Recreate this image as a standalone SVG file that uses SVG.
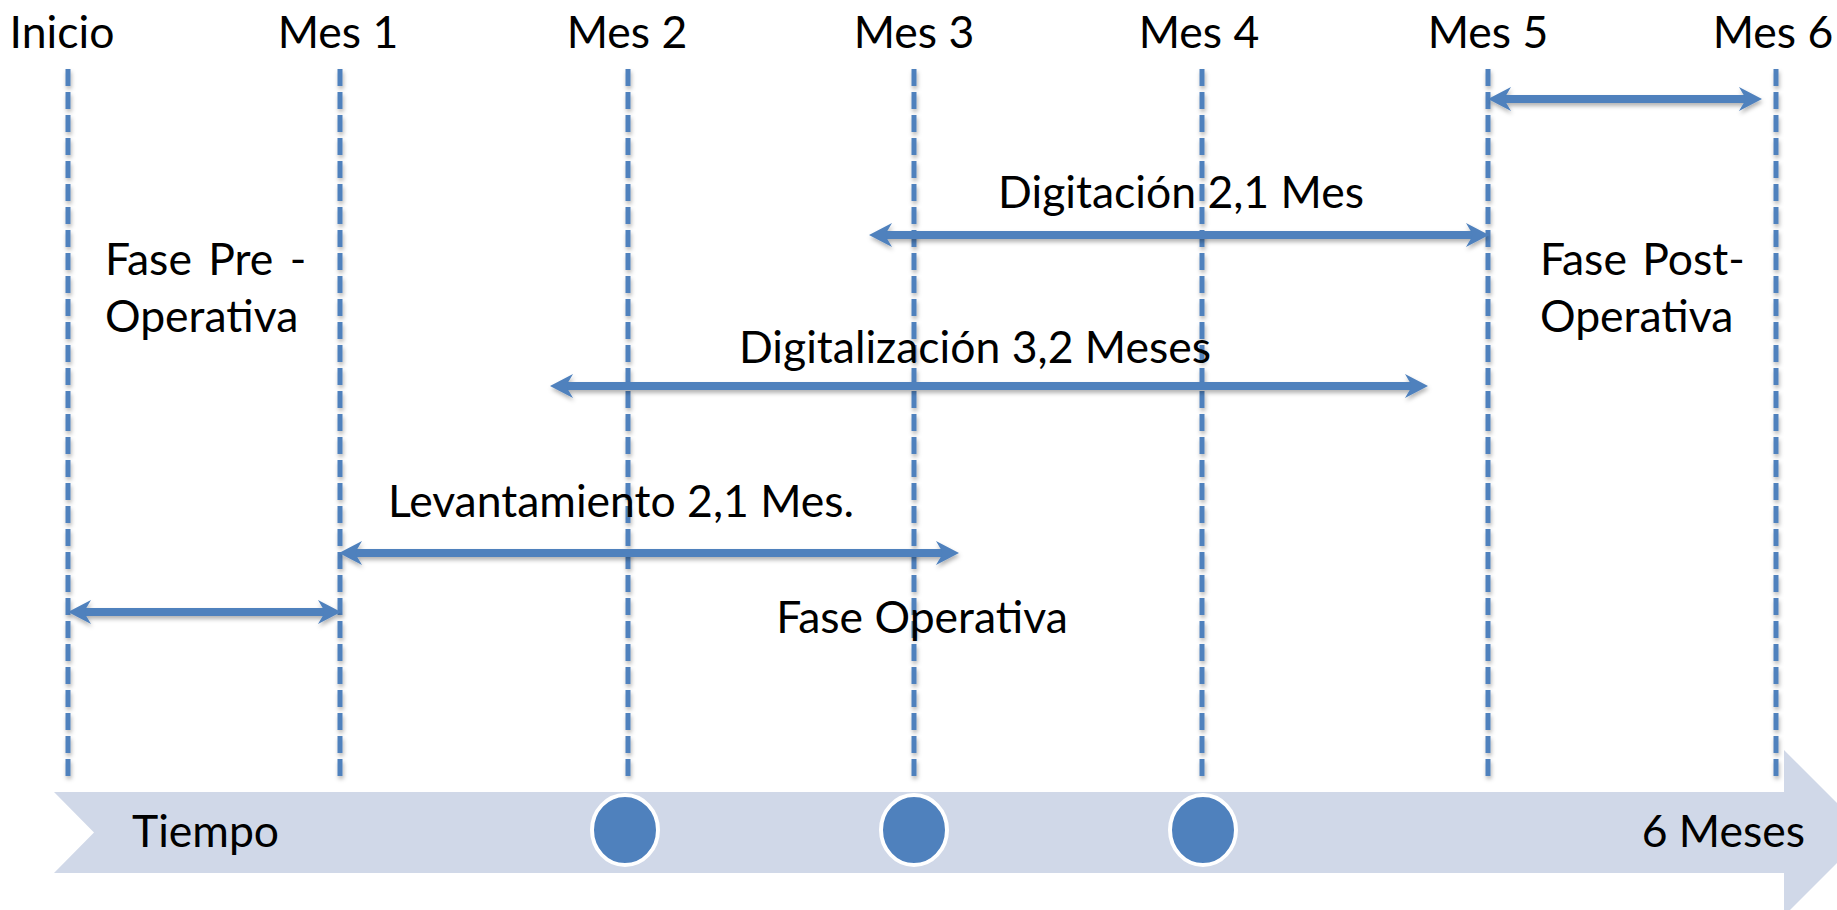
<svg xmlns="http://www.w3.org/2000/svg" width="1837" height="910" viewBox="0 0 1837 910">
<defs>
<style>
.lbl{font-family:Lato,"Open Sans","Liberation Sans",sans-serif;font-size:44.5px;fill:#000}
.vl{stroke:#4F81BD;stroke-width:5;stroke-dasharray:17 6;fill:none}
.arr{stroke:#4F81BD;stroke-width:8;fill:none;marker-start:url(#ah);marker-end:url(#ah)}
.dot{fill:#4F81BD;stroke:#fff;stroke-width:4}
</style>
<marker id="ah" viewBox="-2 -14 28 28" refX="8" refY="0" markerWidth="28" markerHeight="28" markerUnits="userSpaceOnUse" orient="auto-start-reverse" overflow="visible">
<path d="M0,-12 L23,0 L0,12 L7,0 Z" fill="#4F81BD"/>
</marker>
<filter id="sh" x="-5%" y="-5%" width="110%" height="120%">
<feDropShadow dx="1" dy="3" stdDeviation="2" flood-color="#000" flood-opacity="0.3"/>
</filter>
</defs>
<rect width="1837" height="910" fill="#fff"/>
<g id="band">
<polygon points="54,792 1784,792 1784,750 1867,833 1784,916 1784,873 54,873 94,832.5" fill="#D0D8E8"/>
</g>
<g id="gridlines" filter="url(#sh)">
<line class="vl" x1="68" y1="69" x2="68" y2="779"/>
<line class="vl" x1="340" y1="69" x2="340" y2="779"/>
<line class="vl" x1="628" y1="69" x2="628" y2="779"/>
<line class="vl" x1="914" y1="69" x2="914" y2="779"/>
<line class="vl" x1="1202" y1="69" x2="1202" y2="779"/>
<line class="vl" x1="1488" y1="69" x2="1488" y2="779"/>
<line class="vl" x1="1776" y1="69" x2="1776" y2="779"/>
</g>
<g id="month-labels">
<text class="lbl" x="62" y="48" text-anchor="middle">Inicio</text>
<text class="lbl" x="338" y="48" text-anchor="middle">Mes 1</text>
<text class="lbl" x="627" y="48" text-anchor="middle">Mes 2</text>
<text class="lbl" x="914" y="48" text-anchor="middle">Mes 3</text>
<text class="lbl" x="1199" y="48" text-anchor="middle">Mes 4</text>
<text class="lbl" x="1488" y="48" text-anchor="middle">Mes 5</text>
<text class="lbl" x="1773" y="48" text-anchor="middle">Mes 6</text>
</g>
<g id="connectors" filter="url(#sh)">
<line class="arr" x1="1503" y1="99" x2="1747" y2="99"/>
<line class="arr" x1="884" y1="235" x2="1474" y2="235"/>
<line class="arr" x1="565" y1="386" x2="1413" y2="386"/>
<line class="arr" x1="354" y1="553" x2="944" y2="553"/>
<line class="arr" x1="83" y1="612" x2="326" y2="612"/>
</g>
<g id="pre-operativa">
<text class="lbl" x="105" y="275" word-spacing="5">Fase Pre -</text>
<text class="lbl" x="105" y="332">Operativa</text>
</g>
<g id="post-operativa">
<text class="lbl" x="1540" y="275" word-spacing="4">Fase Post-</text>
<text class="lbl" x="1540" y="332">Operativa</text>
</g>
<g id="digitacion">
<text class="lbl" x="1181" y="208" text-anchor="middle">Digitación 2,1 Mes</text>
</g>
<g id="digitalizacion">
<text class="lbl" x="975" y="363" text-anchor="middle">Digitalización 3,2 Meses</text>
</g>
<g id="levantamiento">
<text class="lbl" x="621" y="517" text-anchor="middle">Levantamiento 2,1 Mes.</text>
</g>
<g id="fase-operativa">
<text class="lbl" x="922" y="633" text-anchor="middle">Fase Operativa</text>
</g>
<g id="timeline-markers">
<ellipse class="dot" cx="625" cy="830" rx="33" ry="35"/>
<ellipse class="dot" cx="914" cy="830" rx="33" ry="35"/>
<ellipse class="dot" cx="1203" cy="830" rx="33" ry="35"/>
<text class="lbl" x="132" y="847">Tiempo</text>
<text class="lbl" x="1805" y="847" text-anchor="end">6 Meses</text>
</g>
</svg>
